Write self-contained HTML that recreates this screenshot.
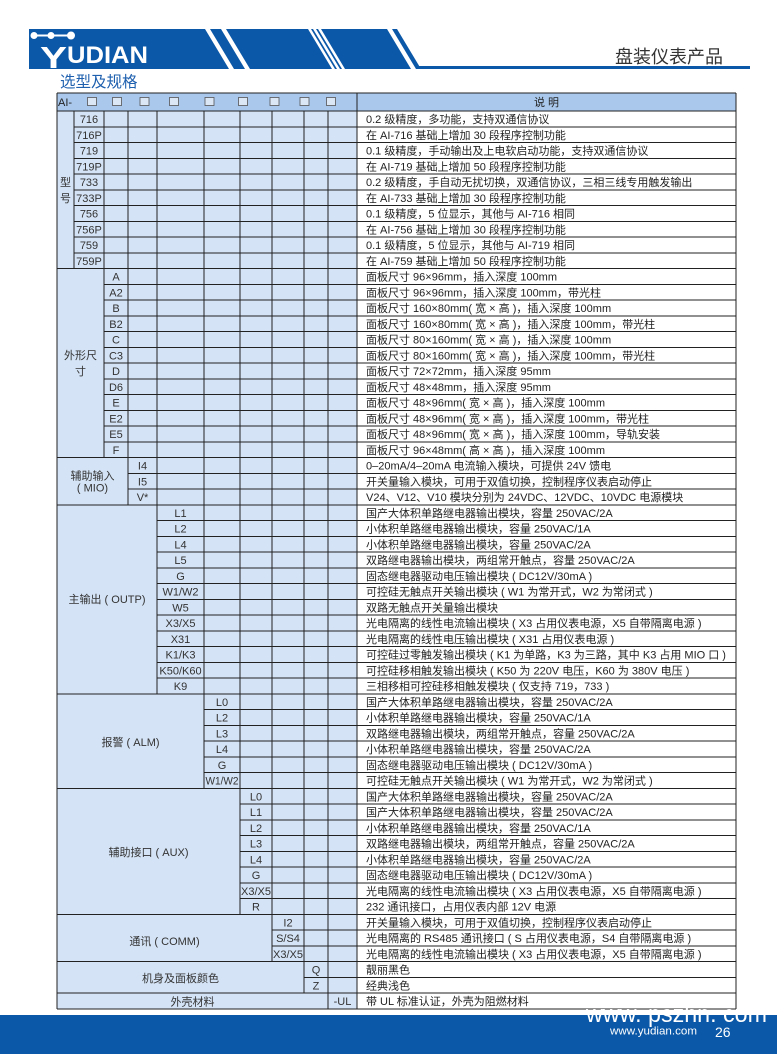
<!DOCTYPE html>
<html><head><meta charset="utf-8"><style>
html,body{margin:0;padding:0;background:#fff;}
svg{display:block;}
text{font-family:"Liberation Sans","Noto Sans CJK SC",sans-serif;}
</style></head><body>
<svg width="777" height="1054" viewBox="0 0 777 1054" xmlns="http://www.w3.org/2000/svg">
<rect width="777" height="1054" fill="#fff"/>
<!-- banner -->
<polygon points="29,29 387,29 411,69 29,69" fill="#0b58a8"/>
<polygon points="205,29 210,29 234,69 229,69" fill="#fff"/>
<polygon points="221,29 226,29 250,69 245,69" fill="#fff"/>
<polygon points="308,29 311,29 335,69 332,69" fill="#fff"/>
<polygon points="313,29 316,29 340,69 337,69" fill="#fff"/>
<polygon points="318,29 321,29 345,69 342,69" fill="#fff"/>
<polygon points="392,29 397,29 421,69 416,69" fill="#0b58a8"/>
<rect x="416" y="66" width="334" height="3" fill="#0b58a8"/>
<g fill="#fff" stroke="#fff">
<path d="M34 35.5H71" stroke-width="2" fill="none"/>
<circle cx="34" cy="35.5" r="3"/>
<circle cx="51" cy="35.5" r="3"/>
<circle cx="71" cy="35.5" r="3.5"/>
</g>
<text x="40" y="68" font-size="31" font-weight="bold" fill="#fff" textLength="27" lengthAdjust="spacingAndGlyphs">Y</text>
<text x="67" y="63" font-size="24" font-weight="bold" fill="#fff" textLength="81" lengthAdjust="spacingAndGlyphs">UDIAN</text>
<text x="60" y="87" font-size="15.5" fill="#1e5fae">选型及规格</text>
<text x="615" y="63" font-size="18" fill="#333">盘装仪表产品</text>

<!-- table backgrounds -->
<rect x="57" y="93" width="679" height="18" fill="#a9c8ec"/>
<rect x="57" y="111" width="300" height="897.75" fill="#d4e3f5"/>

<!-- header -->
<g font-size="11" fill="#222">
<text x="58" y="106">AI-</text>
<text x="546.5" y="106" text-anchor="middle">说 明</text>
</g>
<g fill="#dbe7f5" stroke="#555" stroke-width="0.8">
<rect x="87.5" y="97.5" width="9" height="8"/>
<rect x="112.5" y="97.5" width="9" height="8"/>
<rect x="140" y="97.5" width="9" height="8"/>
<rect x="169.5" y="97.5" width="9" height="8"/>
<rect x="205" y="97.5" width="9" height="8"/>
<rect x="238.5" y="97.5" width="9" height="8"/>
<rect x="270" y="97.5" width="9" height="8"/>
<rect x="300" y="97.5" width="9" height="8"/>
<rect x="326.5" y="97.5" width="9" height="8"/>
</g>

<!-- grid lines -->
<path fill="none" stroke="#222" stroke-width="1" shape-rendering="crispEdges" d="
M57 93H736 M57 111H736 M57 268.5H736 M57 457.5H736 M57 504.75H736 M57 693.75H736 M57 788.25H736 M57 914.25H736 M57 961.5H736 M57 993H736 M57 1008.75H736
M74 126.75H736 M74 142.5H736 M74 158.25H736 M74 174H736 M74 189.75H736 M74 205.5H736 M74 221.25H736 M74 237H736 M74 252.75H736
M104 284.25H736 M104 300H736 M104 315.75H736 M104 331.5H736 M104 347.25H736 M104 363H736 M104 378.75H736 M104 394.5H736 M104 410.25H736 M104 426H736 M104 441.75H736
M128 473.25H736 M128 489H736
M157 520.5H736 M157 536.25H736 M157 552H736 M157 567.75H736 M157 583.5H736 M157 599.25H736 M157 615H736 M157 630.75H736 M157 646.5H736 M157 662.25H736 M157 678H736
M204 709.5H736 M204 725.25H736 M204 741H736 M204 756.75H736 M204 772.5H736
M240 804H736 M240 819.75H736 M240 835.5H736 M240 851.25H736 M240 867H736 M240 882.75H736 M240 898.5H736
M272 930H736 M272 945.75H736
M304 977.25H736
M57 93V1008.75 M736 93V1008.75 M357 93V1008.75
M74 111V268.5 M104 111V457.5 M128 111V504.75 M157 111V693.75 M204 111V788.25 M240 111V914.25 M272 111V961.5 M304 111V993 M328 111V1008.75"/>

<!-- group labels -->
<g font-size="11" fill="#333" text-anchor="middle">
<text x="65.5" y="186">型</text>
<text x="65.5" y="201.75">号</text>
<text x="80.5" y="359">外形尺</text>
<text x="80.5" y="375">寸</text>
<text x="92.5" y="479.5">辅助输入</text>
<text x="92.5" y="491.5">( MIO)</text>
<text x="107" y="603">主输出 ( OUTP)</text>
<text x="130.5" y="746">报警 ( ALM)</text>
<text x="148.5" y="856">辅助接口 ( AUX)</text>
<text x="164.5" y="945">通讯 ( COMM)</text>
<text x="180.5" y="982">机身及面板颜色</text>
<text x="192.5" y="1005.5">外壳材料</text>
</g>

<!-- codes -->
<g font-size="11" fill="#333" text-anchor="middle">
<text x="89" y="123">716</text>
<text x="89" y="138.75">716P</text>
<text x="89" y="154.5">719</text>
<text x="89" y="170.25">719P</text>
<text x="89" y="186">733</text>
<text x="89" y="201.75">733P</text>
<text x="89" y="217.5">756</text>
<text x="89" y="233.25">756P</text>
<text x="89" y="249">759</text>
<text x="89" y="264.75">759P</text>

<text x="116" y="280.5">A</text>
<text x="116" y="296.25">A2</text>
<text x="116" y="312">B</text>
<text x="116" y="327.75">B2</text>
<text x="116" y="343.5">C</text>
<text x="116" y="359.25">C3</text>
<text x="116" y="375">D</text>
<text x="116" y="390.75">D6</text>
<text x="116" y="406.5">E</text>
<text x="116" y="422.25">E2</text>
<text x="116" y="438">E5</text>
<text x="116" y="453.75">F</text>

<text x="142.5" y="469.5">I4</text>
<text x="142.5" y="485.25">I5</text>
<text x="142.5" y="501">V*</text>

<text x="180.5" y="516.75">L1</text>
<text x="180.5" y="532.5">L2</text>
<text x="180.5" y="548.25">L4</text>
<text x="180.5" y="564">L5</text>
<text x="180.5" y="579.75">G</text>
<text x="180.5" y="595.5">W1/W2</text>
<text x="180.5" y="611.25">W5</text>
<text x="180.5" y="627">X3/X5</text>
<text x="180.5" y="642.75">X31</text>
<text x="180.5" y="658.5">K1/K3</text>
<text x="180.5" y="674.25">K50/K60</text>
<text x="180.5" y="690">K9</text>

<text x="222" y="705.75">L0</text>
<text x="222" y="721.5">L2</text>
<text x="222" y="737.25">L3</text>
<text x="222" y="753">L4</text>
<text x="222" y="768.75">G</text>
<text x="222" y="784.5" textLength="33" lengthAdjust="spacingAndGlyphs">W1/W2</text>

<text x="256" y="800.25">L0</text>
<text x="256" y="816">L1</text>
<text x="256" y="831.75">L2</text>
<text x="256" y="847.5">L3</text>
<text x="256" y="863.25">L4</text>
<text x="256" y="879">G</text>
<text x="256" y="894.75" textLength="30" lengthAdjust="spacingAndGlyphs">X3/X5</text>
<text x="256" y="910.5">R</text>

<text x="288" y="926.25">I2</text>
<text x="288" y="942">S/S4</text>
<text x="288" y="957.75" textLength="30" lengthAdjust="spacingAndGlyphs">X3/X5</text>

<text x="316" y="973.5">Q</text>
<text x="316" y="989.25">Z</text>

<text x="342.5" y="1005">-UL</text>
</g>

<!-- descriptions -->
<g font-size="11" fill="#222">
<text x="366" y="123">0.2 级精度，多功能，支持双通信协议</text>
<text x="366" y="138.75">在 AI-716 基础上增加 30 段程序控制功能</text>
<text x="366" y="154.5">0.1 级精度，手动输出及上电软启动功能，支持双通信协议</text>
<text x="366" y="170.25">在 AI-719 基础上增加 50 段程序控制功能</text>
<text x="366" y="186">0.2 级精度，手自动无扰切换，双通信协议，三相三线专用触发输出</text>
<text x="366" y="201.75">在 AI-733 基础上增加 30 段程序控制功能</text>
<text x="366" y="217.5">0.1 级精度，5 位显示，其他与 AI-716 相同</text>
<text x="366" y="233.25">在 AI-756 基础上增加 30 段程序控制功能</text>
<text x="366" y="249">0.1 级精度，5 位显示，其他与 AI-719 相同</text>
<text x="366" y="264.75">在 AI-759 基础上增加 50 段程序控制功能</text>

<text x="366" y="280.5">面板尺寸 96×96mm，插入深度 100mm</text>
<text x="366" y="296.25">面板尺寸 96×96mm，插入深度 100mm，带光柱</text>
<text x="366" y="312">面板尺寸 160×80mm( 宽 × 高 )，插入深度 100mm</text>
<text x="366" y="327.75">面板尺寸 160×80mm( 宽 × 高 )，插入深度 100mm，带光柱</text>
<text x="366" y="343.5">面板尺寸 80×160mm( 宽 × 高 )，插入深度 100mm</text>
<text x="366" y="359.25">面板尺寸 80×160mm( 宽 × 高 )，插入深度 100mm，带光柱</text>
<text x="366" y="375">面板尺寸 72×72mm，插入深度 95mm</text>
<text x="366" y="390.75">面板尺寸 48×48mm，插入深度 95mm</text>
<text x="366" y="406.5">面板尺寸 48×96mm( 宽 × 高 )，插入深度 100mm</text>
<text x="366" y="422.25">面板尺寸 48×96mm( 宽 × 高 )，插入深度 100mm，带光柱</text>
<text x="366" y="438">面板尺寸 48×96mm( 宽 × 高 )，插入深度 100mm，导轨安装</text>
<text x="366" y="453.75">面板尺寸 96×48mm( 高 × 高 )，插入深度 100mm</text>

<text x="366" y="469.5">0–20mA/4–20mA 电流输入模块，可提供 24V 馈电</text>
<text x="366" y="485.25">开关量输入模块，可用于双值切换，控制程序仪表启动停止</text>
<text x="366" y="501">V24、V12、V10 模块分别为 24VDC、12VDC、10VDC 电源模块</text>

<text x="366" y="516.75">国产大体积单路继电器输出模块，容量 250VAC/2A</text>
<text x="366" y="532.5">小体积单路继电器输出模块，容量 250VAC/1A</text>
<text x="366" y="548.25">小体积单路继电器输出模块，容量 250VAC/2A</text>
<text x="366" y="564">双路继电器输出模块，两组常开触点，容量 250VAC/2A</text>
<text x="366" y="579.75">固态继电器驱动电压输出模块 ( DC12V/30mA )</text>
<text x="366" y="595.5">可控硅无触点开关输出模块 ( W1 为常开式，W2 为常闭式 )</text>
<text x="366" y="611.25">双路无触点开关量输出模块</text>
<text x="366" y="627">光电隔离的线性电流输出模块 ( X3 占用仪表电源，X5 自带隔离电源 )</text>
<text x="366" y="642.75">光电隔离的线性电压输出模块 ( X31 占用仪表电源 )</text>
<text x="366" y="658.5">可控硅过零触发输出模块 ( K1 为单路，K3 为三路，其中 K3 占用 MIO 口 )</text>
<text x="366" y="674.25">可控硅移相触发输出模块 ( K50 为 220V 电压，K60 为 380V 电压 )</text>
<text x="366" y="690">三相移相可控硅移相触发模块 ( 仅支持 719，733 )</text>

<text x="366" y="705.75">国产大体积单路继电器输出模块，容量 250VAC/2A</text>
<text x="366" y="721.5">小体积单路继电器输出模块，容量 250VAC/1A</text>
<text x="366" y="737.25">双路继电器输出模块，两组常开触点，容量 250VAC/2A</text>
<text x="366" y="753">小体积单路继电器输出模块，容量 250VAC/2A</text>
<text x="366" y="768.75">固态继电器驱动电压输出模块 ( DC12V/30mA )</text>
<text x="366" y="784.5">可控硅无触点开关输出模块 ( W1 为常开式，W2 为常闭式 )</text>

<text x="366" y="800.25">国产大体积单路继电器输出模块，容量 250VAC/2A</text>
<text x="366" y="816">国产大体积单路继电器输出模块，容量 250VAC/2A</text>
<text x="366" y="831.75">小体积单路继电器输出模块，容量 250VAC/1A</text>
<text x="366" y="847.5">双路继电器输出模块，两组常开触点，容量 250VAC/2A</text>
<text x="366" y="863.25">小体积单路继电器输出模块，容量 250VAC/2A</text>
<text x="366" y="879">固态继电器驱动电压输出模块 ( DC12V/30mA )</text>
<text x="366" y="894.75">光电隔离的线性电流输出模块 ( X3 占用仪表电源，X5 自带隔离电源 )</text>
<text x="366" y="910.5">232 通讯接口，占用仪表内部 12V 电源</text>

<text x="366" y="926.25">开关量输入模块，可用于双值切换，控制程序仪表启动停止</text>
<text x="366" y="942">光电隔离的 RS485 通讯接口 ( S 占用仪表电源，S4 自带隔离电源 )</text>
<text x="366" y="957.75">光电隔离的线性电流输出模块 ( X3 占用仪表电源，X5 自带隔离电源 )</text>

<text x="366" y="973.5">靓丽黑色</text>
<text x="366" y="989.25">经典浅色</text>

<text x="366" y="1005">带 UL 标准认证，外壳为阻燃材料</text>
</g>

<!-- footer -->
<rect x="0" y="1015" width="777" height="39" fill="#0b58a8"/>
<text x="586" y="1022" font-size="24" fill="#fff" textLength="181" lengthAdjust="spacingAndGlyphs">www. pszhn. com</text>
<text x="610" y="1034.5" font-size="11" fill="#fff" textLength="87" lengthAdjust="spacingAndGlyphs">www.yudian.com</text>
<text x="715" y="1037" font-size="14" fill="#fff">26</text>
</svg>
</body></html>
